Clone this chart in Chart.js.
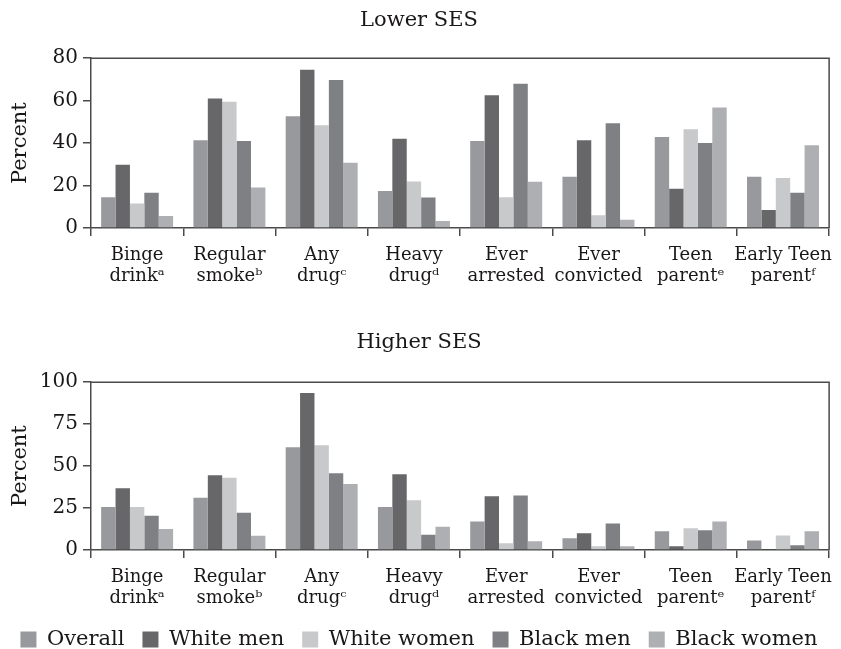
<!DOCTYPE html>
<html>
<head>
<meta charset="utf-8">
<script src="https://cdn.jsdelivr.net/npm/chart.js@4/dist/chart.umd.min.js"></script>
<style>
  html, body { margin: 0; padding: 0; background: #ffffff; overflow: hidden; width: 841px; height: 649px; }
  #c1 { position: absolute; left: 0; top: 0; }
  #c2 { position: absolute; left: 0; top: 300px; }
</style>
</head>
<body>
<canvas id="c1" width="841" height="300"></canvas>
<canvas id="c2" width="841" height="360"></canvas>
<script>
const categories = [
  ["Binge", "drink\u1D43"],
  ["Regular", "smoke\u1D47"],
  ["Any", "drug\u1D9C"],
  ["Heavy", "drug\u1D48"],
  ["Ever", "arrested"],
  ["Ever", "convicted"],
  ["Teen", "parent\u1D49"],
  ["Early Teen", "parent\u1DA0"]
];
const seriesNames = ["Overall", "White men", "White women", "Black men", "Black women"];

// Lower SES
const lowerOverall     = [14.5, 41.3, 52.7, 17.4, 41.0, 24.1, 42.9, 24.1];
const lowerWhiteMen    = [29.8, 61.0, 74.5, 42.1, 62.6, 41.3, 18.5, 8.5];
const lowerWhiteWomen  = [11.5, 59.5, 48.4, 21.9, 14.5, 6.0, 46.5, 23.5];
const lowerBlackMen    = [16.6, 41.0, 69.7, 14.4, 68.0, 49.4, 40.1, 16.6];
const lowerBlackWomen  = [5.7, 19.1, 30.8, 3.3, 21.8, 3.9, 56.8, 39.0];
const lowerTicks = [0, 20, 40, 60, 80];

// Higher SES
const higherOverall    = [25.7, 31.1, 61.2, 25.7, 17.0, 7.0, 11.1, 5.7];
const higherWhiteMen   = [36.8, 44.6, 93.5, 45.1, 32.0, 10.0, 2.2, 0];
const higherWhiteWomen = [25.7, 43.0, 62.4, 29.7, 4.0, 2.2, 12.9, 8.7];
const higherBlackMen   = [20.4, 22.2, 45.7, 9.1, 32.5, 15.8, 11.7, 2.8];
const higherBlackWomen = [12.5, 8.5, 39.4, 13.9, 5.2, 2.2, 17.0, 11.1];
const higherTicks = [0, 25, 50, 75, 100];

const colors = ["#98999d", "#67676a", "#c8c9cb", "#7f8084", "#aeafb2"];
const FONT = "'DejaVu Serif', 'Liberation Serif', serif";
const TEXT = "#1a1718";
const AXIS = "#4a4a4a";

const framePlugin = {
  id: 'frame',
  afterDatasetsDraw(chart) {
    const {ctx, chartArea: a} = chart;
    ctx.save();
    ctx.strokeStyle = AXIS;
    ctx.lineWidth = 1.5;
    ctx.beginPath();
    ctx.moveTo(a.left, a.top);
    ctx.lineTo(a.right, a.top);
    ctx.lineTo(a.right, a.bottom);
    ctx.stroke();
    ctx.restore();
  }
};

function makeDatasets(arrs) {
  return arrs.map((d, i) => ({
    label: seriesNames[i],
    data: d,
    backgroundColor: colors[i],
    borderWidth: 0,
    categoryPercentage: 0.78,
    barPercentage: 1.0
  }));
}

function makeConfig(title, arrs, ticks, xHeight, titlePad, showLegend) {
  return {
    type: 'bar',
    data: { labels: categories, datasets: makeDatasets(arrs) },
    plugins: [framePlugin],
    options: {
      responsive: false,
      animation: false,
      devicePixelRatio: 1,
      layout: { padding: { left: 0, right: 3, top: 0, bottom: 0 } },
      plugins: {
        title: {
          display: true, text: title, color: TEXT,
          font: { family: FONT, size: 21, weight: 'normal' },
          padding: titlePad
        },
        legend: {
          display: showLegend,
          position: 'bottom',
          labels: {
            boxWidth: 16, boxHeight: 16, padding: 18, color: TEXT,
            font: { family: FONT, size: 21 }
          }
        },
        tooltip: { enabled: false }
      },
      scales: {
        x: {
          grid: { display: true, drawOnChartArea: false, drawTicks: true, tickLength: 8, color: AXIS, lineWidth: 1.5, offset: true },
          border: { display: true, color: AXIS, width: 1.5 },
          ticks: { color: TEXT, font: { family: FONT, size: 18, lineHeight: 1.17 }, padding: 9, maxRotation: 0, autoSkip: false },
          afterFit(s) { s.height = xHeight; }
        },
        y: {
          min: ticks[0], max: ticks[ticks.length - 1],
          afterBuildTicks(s) { s.ticks = ticks.map(v => ({ value: v })); },
          grid: { display: true, drawOnChartArea: false, drawTicks: true, tickLength: 8, color: AXIS, lineWidth: 1.5 },
          border: { display: true, color: AXIS, width: 1.5 },
          ticks: { color: TEXT, font: { family: FONT, size: 20 }, padding: 5 },
          title: { display: true, text: 'Percent', color: TEXT, font: { family: FONT, size: 21 }, padding: { top: 8 } },
          afterFit(s) { s.width = 91; }
        }
      }
    }
  };
}

new Chart(document.getElementById('c1'),
  makeConfig('Lower SES',
    [lowerOverall, lowerWhiteMen, lowerWhiteWomen, lowerBlackMen, lowerBlackWomen],
    lowerTicks, 72, { top: 8, bottom: 25 }, false));

new Chart(document.getElementById('c2'),
  makeConfig('Higher SES',
    [higherOverall, higherWhiteMen, higherWhiteWomen, higherBlackMen, higherBlackWomen],
    higherTicks, 61, { top: 30, bottom: 27 }, true));
</script>
</body>
</html>
